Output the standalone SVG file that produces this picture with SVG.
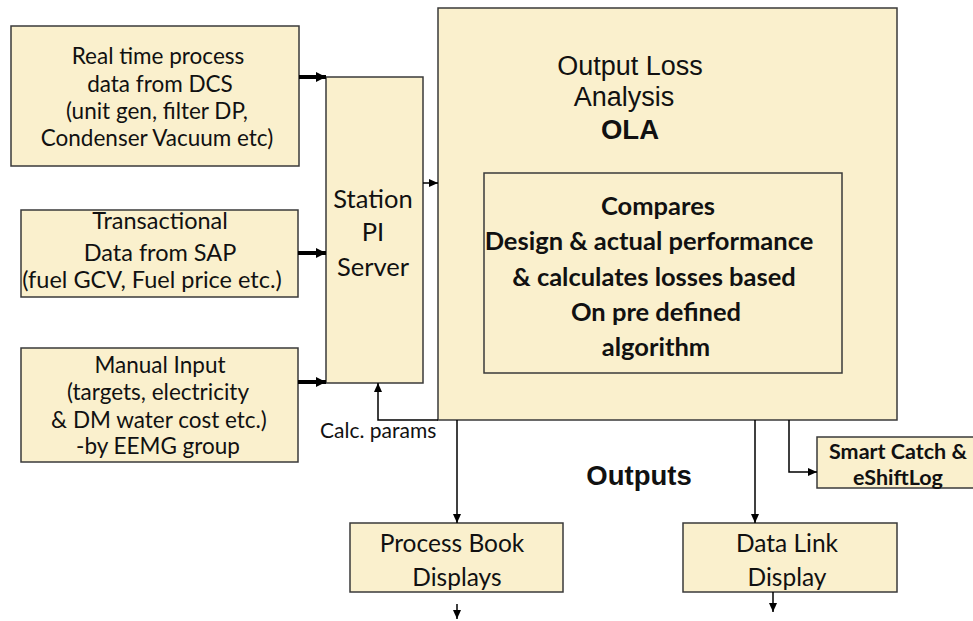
<svg xmlns="http://www.w3.org/2000/svg" width="973" height="621" viewBox="0 0 973 621">
  <style>
    .box { fill: #FAF0CD; stroke: #3a3a3a; stroke-width: 1.5; }
    .cal { font-family: Lato, "Open Sans", sans-serif; font-size: 22.5px; fill: #111; text-anchor: middle; }
    .calb { font-family: Lato, "Open Sans", sans-serif; font-size: 25.5px; font-weight: bold; fill: #111; text-anchor: middle; }
    .ari { font-family: "Liberation Sans", Arial, sans-serif; font-size: 27px; fill: #111; text-anchor: middle; }
    .arib { font-family: "Liberation Sans", Arial, sans-serif; font-size: 27.5px; font-weight: bold; fill: #111; text-anchor: middle; }
    .thick { stroke: #000; stroke-width: 4; fill: none; }
    .thin { stroke: #000; stroke-width: 1.5; fill: none; }
  </style>
  <defs>
    <marker id="headBig" markerUnits="userSpaceOnUse" markerWidth="12" markerHeight="12" refX="10" refY="6" orient="auto">
      <path d="M0,1 L10,6 L0,11 Z" fill="#000"/>
    </marker>
    <marker id="head" markerUnits="userSpaceOnUse" markerWidth="10" markerHeight="10" refX="9" refY="5" orient="auto">
      <path d="M0,1 L9,5 L0,9 Z" fill="#000"/>
    </marker>
  </defs>

  <rect width="973" height="621" fill="#fff"/>

  <g id="dcs-input">
    <rect class="box" x="11" y="26" width="288" height="140"/>
    <text class="cal" x="158" y="64">Real time process</text>
    <text class="cal" x="160" y="92">data from DCS</text>
    <text class="cal" x="157" y="119">(unit gen, filter DP,</text>
    <text class="cal" x="157" y="146">Condenser Vacuum etc)</text>
  </g>

  <g id="sap-input">
    <rect class="box" x="21" y="210" width="277" height="87"/>
    <text class="cal" x="160" y="229" style="font-size:23.5px">Transactional</text>
    <text class="cal" x="160" y="261" style="font-size:23.5px">Data from SAP</text>
    <text class="cal" x="152" y="288" style="font-size:23.5px">(fuel GCV, Fuel price etc.)</text>
  </g>

  <g id="manual-input">
    <rect class="box" x="21" y="348" width="277" height="114"/>
    <text class="cal" x="160" y="373">Manual Input</text>
    <text class="cal" x="158" y="400">(targets, electricity</text>
    <text class="cal" x="159" y="428">&amp; DM water cost etc.)</text>
    <text class="cal" x="158" y="454">-by EEMG group</text>
  </g>

  <g id="pi-server">
    <rect class="box" x="326" y="77" width="97" height="306"/>
    <text class="cal" x="373" y="208" style="font-size:25.5px">Station</text>
    <text class="cal" x="373" y="241" style="font-size:25.5px">PI</text>
    <text class="cal" x="373" y="276" style="font-size:25.5px">Server</text>
  </g>

  <g id="ola">
    <rect class="box" x="438" y="8" width="459" height="412"/>
    <text class="ari" x="630" y="75">Output Loss</text>
    <text class="ari" x="624" y="106">Analysis</text>
    <text class="arib" x="630" y="139">OLA</text>
  </g>

  <g id="ola-logic">
    <rect class="box" x="484" y="173" width="358" height="200"/>
    <text class="calb" x="658" y="215">Compares</text>
    <text class="calb" x="649" y="250">Design &amp; actual performance</text>
    <text class="calb" x="654" y="286">&amp; calculates losses based</text>
    <text class="calb" x="656" y="321">On pre defined</text>
    <text class="calb" x="656" y="356">algorithm</text>
  </g>

  <g id="outputs-label">
    <text class="arib" x="639" y="485">Outputs</text>
  </g>

  <g id="smart-catch">
    <rect class="box" x="817" y="437" width="160" height="51"/>
    <text class="calb" x="898" y="459" style="font-size:21.5px">Smart Catch &amp;</text>
    <text class="calb" x="898" y="485" style="font-size:21.5px">eShiftLog</text>
  </g>

  <g id="process-book">
    <rect class="box" x="350" y="523" width="213" height="69"/>
    <text class="cal" x="452" y="552" style="font-size:24.5px">Process Book</text>
    <text class="cal" x="457" y="586" style="font-size:24.5px">Displays</text>
  </g>

  <g id="data-link">
    <rect class="box" x="683" y="523" width="214" height="69"/>
    <text class="cal" x="787" y="552" style="font-size:24.5px">Data Link</text>
    <text class="cal" x="787" y="586" style="font-size:24.5px">Display</text>
  </g>

  <g id="connectors">
    <line class="thick" x1="299" y1="77" x2="326" y2="77" marker-end="url(#headBig)"/>
    <line class="thick" x1="298" y1="253" x2="326" y2="253" marker-end="url(#headBig)"/>
    <line class="thick" x1="298" y1="382" x2="326" y2="382" marker-end="url(#headBig)"/>
    <line class="thin" x1="423" y1="183" x2="438" y2="183" marker-end="url(#head)"/>
    <polyline class="thin" points="438,420 378,420 378,383" marker-end="url(#head)"/>
    <text x="320" y="438" style="font-family: Lato, 'Open Sans', sans-serif; font-size: 21px; fill: #111;">Calc. params</text>
    <line class="thin" x1="457" y1="420" x2="457" y2="523" marker-end="url(#head)"/>
    <line class="thin" x1="755" y1="420" x2="755" y2="523" marker-end="url(#head)"/>
    <polyline class="thin" points="789,420 789,472 817,472" marker-end="url(#head)"/>
    <line class="thin" x1="457" y1="604" x2="457" y2="619" marker-end="url(#head)"/>
    <line class="thin" x1="773" y1="592" x2="773" y2="612" marker-end="url(#head)"/>
  </g>
</svg>
